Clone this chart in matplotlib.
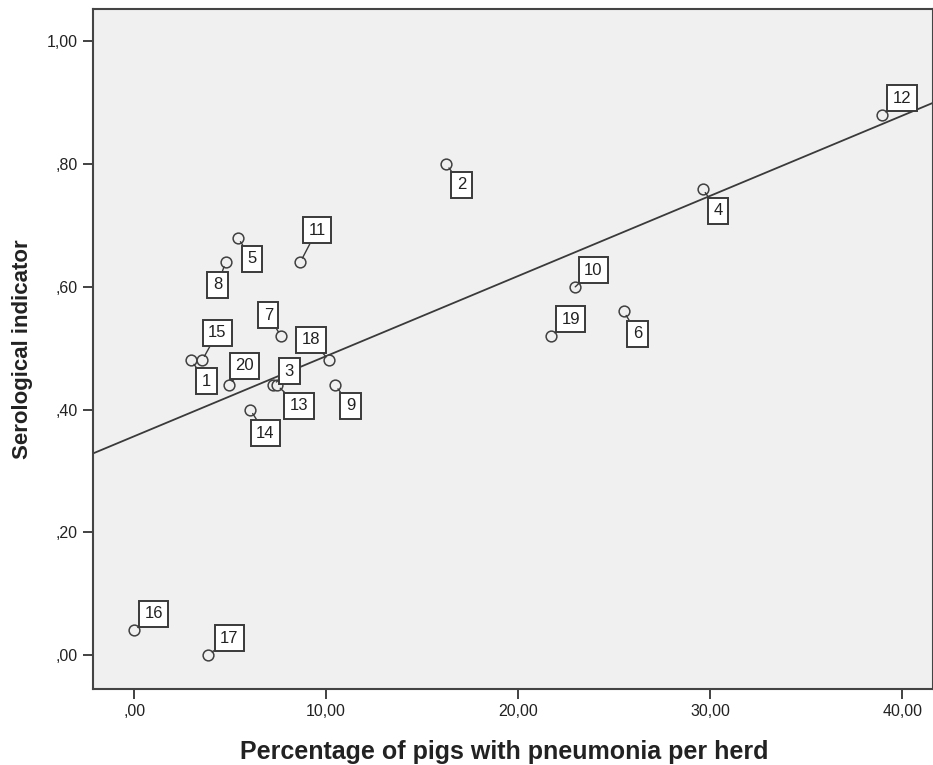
import numpy as np
import matplotlib
matplotlib.use("Agg")
import matplotlib.pyplot as plt
from matplotlib.ticker import FuncFormatter

plt.rcParams['font.family'] = ['Liberation Sans Narrow', 'Liberation Sans', 'DejaVu Sans']

# herd number, % pigs with pneumonia, serological indicator
herd = [1, 2, 3, 4, 5, 6, 7, 8, 9, 10, 11, 12, 13, 14, 15, 16, 17, 18, 19, 20]
pneumonia = [2.97, 16.25, 7.22, 29.6, 5.40, 25.49, 7.64, 4.77, 10.47, 22.97,
             8.65, 38.96, 7.43, 6.04, 3.54, 0.0, 3.87, 10.16, 21.72, 4.96]
serology = [0.48, 0.80, 0.44, 0.76, 0.68, 0.56, 0.52, 0.64, 0.44, 0.60,
            0.64, 0.88, 0.44, 0.40, 0.48, 0.04, 0.00, 0.48, 0.52, 0.44]

# label offsets in points (dx right, dy up)
offsets = {1: (11, -15), 2: (11, -15), 3: (12, 10), 4: (11, -16), 5: (10, -15),
           6: (10, -16), 7: (-9, 15), 8: (-6, -16), 9: (11, -15), 10: (13, 12),
           11: (12, 23), 12: (14, 12), 13: (16, -15), 14: (11, -17), 15: (11, 20),
           16: (14, 12), 17: (15, 12), 18: (-13, 15), 19: (14, 12), 20: (11, 14)}

fig = plt.figure(figsize=(9.33, 7.65), dpi=100)
ax = fig.add_axes([0.0997, 0.0993, 0.9003, 0.8887])
ax.set_facecolor('#f0f0f0')

x = np.array(pneumonia)
y = np.array(serology)

# linear fit
slope, icpt = np.polyfit(x, y, 1)
xl = np.array([-2.14, 41.6])
ax.plot(xl, icpt + slope * xl, color='#3a3a3a', lw=1.3, zorder=2)

ax.scatter(x, y, s=60, facecolor='#f0f0f0', edgecolor='#404040', linewidth=1.1, zorder=3)

for h, xi, yi in zip(herd, x, y):
    dx, dy = offsets[h]
    ax.annotate(str(h), (xi, yi), xytext=(dx, dy), textcoords='offset points',
                ha='center', va='center', fontsize=12, color='#222222',
                bbox=dict(boxstyle='square,pad=0.33', fc='white', ec='#3a3a3a', lw=1.4),
                arrowprops=dict(arrowstyle='-', color='#3a3a3a', lw=1.0,
                                shrinkA=0, shrinkB=3.4),
                zorder=4)

ax.set_xlim(-2.14, 41.6)
ax.set_ylim(-0.0554, 1.0525)
ax.set_xticks([0, 10, 20, 30, 40])
ax.set_yticks([0, 0.2, 0.4, 0.6, 0.8, 1.0])


def fmt(v, pos):
    s = '%.2f' % v
    if s.startswith('0'):
        s = s[1:]
    return s.replace('.', ',')


ax.xaxis.set_major_formatter(FuncFormatter(fmt))
ax.yaxis.set_major_formatter(FuncFormatter(fmt))
ax.tick_params(length=7, width=1.3, color='#333333', labelsize=11.5, labelcolor='#222222', pad=4)
for sp in ax.spines.values():
    sp.set_color('#444444')
    sp.set_linewidth(1.5)

ax.set_xlabel('Percentage of pigs with pneumonia per herd', fontsize=18, fontweight='bold',
              color='#222222', labelpad=12)
ax.xaxis.set_label_coords(0.49, -0.075)
ax.set_ylabel('Serological indicator', fontsize=16, fontweight='bold', color='#222222', labelpad=10)

fig.savefig('out.png', dpi=100)
